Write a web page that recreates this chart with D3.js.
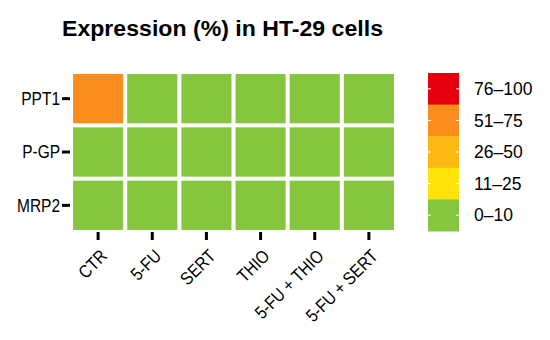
<!DOCTYPE html>
<html>
<head>
<meta charset="utf-8">
<script src="https://cdn.jsdelivr.net/npm/d3@7"></script>
<style>
  body { margin: 0; background: #fff; }
  text { font-family: "Liberation Sans", Arial, sans-serif; fill: #000; }
</style>
</head>
<body>
<div id="chart"></div>
<script>
const width = 550;
const height = 340;

const genes = ["PPT1", "P-GP", "MRP2"];
const treatments = ["CTR", "5-FU", "SERT", "THIO", "5-FU + THIO", "5-FU + SERT"];
// expression class (legend label) for each gene, one per treatment
const ppt1 = ["51–75", "0–10", "0–10", "0–10", "0–10", "0–10"];
const pgp = ["0–10", "0–10", "0–10", "0–10", "0–10", "0–10"];
const mrp2 = ["0–10", "0–10", "0–10", "0–10", "0–10", "0–10"];
const legendLabels = ["76–100", "51–75", "26–50", "11–25", "0–10"];
const legendColours = ["#E6000E", "#F98E1D", "#FDB913", "#FFE40A", "#86C63F"];

const rows = [ppt1, pgp, mrp2];
let cells = [];
rows.forEach(function(r, i) {
    r.forEach(function(v, j) {
        cells.push({gene: genes[i], treat: treatments[j], level: v});
    });
});

const colour = d3.scaleOrdinal().domain(legendLabels).range(legendColours);

let svg = d3.select("#chart")
    .append("svg").attr("width", width).attr("height", height);

svg.append("text")
    .attr("x", 62).attr("y", 36)
    .attr("font-size", 21.5).attr("font-weight", "bold")
    .attr("textLength", 321).attr("lengthAdjust", "spacingAndGlyphs")
    .text("Expression (%) in HT-29 cells");

const x = d3.scaleBand().domain(treatments).range([69, 398]).padding(0.075);
const y = d3.scaleBand().domain(genes).range([70, 234]).padding(0.075);

svg.append("g").selectAll("rect")
    .data(cells)
    .enter()
    .append("rect")
    .attr("x", d => x(d.treat))
    .attr("y", d => y(d.gene))
    .attr("width", x.bandwidth())
    .attr("height", y.bandwidth())
    .attr("fill", d => colour(d.level));

// narrow-looking axis labels: squeeze the glyphs horizontally
function narrow(sel) {
    sel.each(function() {
        let w = this.getComputedTextLength();
        d3.select(this).attr("textLength", w * 0.86).attr("lengthAdjust", "spacingAndGlyphs");
    });
}

// y axis
let yAxis = svg.append("g")
    .attr("transform", "translate(70,0)")
    .call(d3.axisLeft(y).tickSize(8).tickPadding(2));
yAxis.select(".domain").remove();
yAxis.selectAll(".tick line").attr("stroke", "#000").attr("stroke-width", 3);
yAxis.selectAll(".tick text")
    .attr("font-family", null).attr("font-size", 18).attr("dy", "0.36em")
    .call(narrow);

// x axis
let xAxis = svg.append("g")
    .attr("transform", "translate(0,232)")
    .call(d3.axisBottom(x).tickSize(8).tickPadding(4));
xAxis.select(".domain").remove();
xAxis.selectAll(".tick line").attr("stroke", "#000").attr("stroke-width", 3);
xAxis.selectAll(".tick text")
    .attr("font-family", null).attr("font-size", 18)
    .attr("text-anchor", "end")
    .attr("x", 0).attr("y", 0)
    .attr("dy", "0.72em")
    .attr("transform", "translate(1,16) rotate(-45)")
    .call(narrow);

// legend
const ly = d3.scaleBand().domain(legendLabels).range([73, 231]);
let legend = svg.append("g");
legend.selectAll("rect")
    .data(legendLabels)
    .enter()
    .append("rect")
    .attr("x", 428).attr("y", d => ly(d))
    .attr("width", 31).attr("height", ly.bandwidth() + 0.5)
    .attr("fill", d => colour(d));
legend.selectAll("line.l")
    .data(legendLabels).enter().append("line")
    .attr("x1", 428).attr("x2", 431)
    .attr("y1", d => ly(d) + ly.bandwidth() / 2)
    .attr("y2", d => ly(d) + ly.bandwidth() / 2)
    .attr("stroke", "#fff").attr("stroke-width", 1);
legend.selectAll("line.r")
    .data(legendLabels).enter().append("line")
    .attr("x1", 456).attr("x2", 459)
    .attr("y1", d => ly(d) + ly.bandwidth() / 2)
    .attr("y2", d => ly(d) + ly.bandwidth() / 2)
    .attr("stroke", "#fff").attr("stroke-width", 1);
legend.selectAll("text")
    .data(legendLabels)
    .enter()
    .append("text")
    .attr("x", 474)
    .attr("y", d => ly(d) + ly.bandwidth() / 2)
    .attr("dy", "0.35em")
    .attr("font-size", 17.5)
    .text(d => d);
</script>
</body>
</html>
